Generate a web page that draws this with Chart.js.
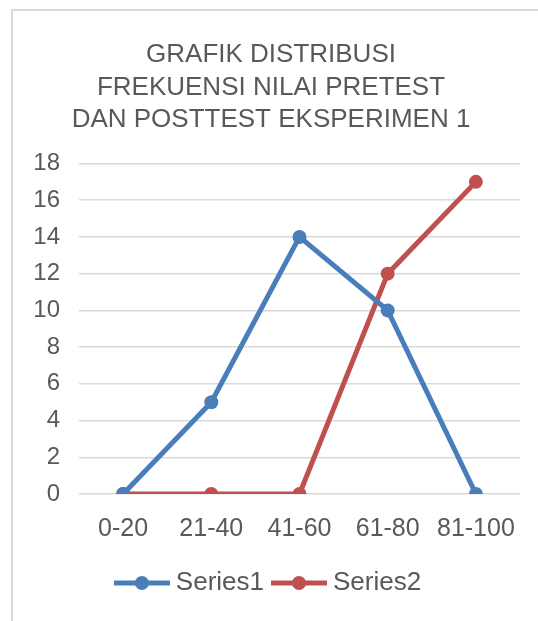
<!DOCTYPE html>
<html>
<head>
<meta charset="utf-8">
<script src="https://cdn.jsdelivr.net/npm/chart.js@4/dist/chart.umd.min.js"></script>
<style>
  html, body { margin: 0; padding: 0; background: #fff; }
  #wrap { position: relative; width: 538px; height: 621px; overflow: hidden; }
  #frame { position: absolute; left: 11px; top: 9px; width: 600px; height: 700px;
           border-top: 2px solid #d9d9d9; border-left: 2px solid #d9d9d9; box-sizing: border-box; }
  canvas { position: absolute; left: 0; top: 0; }
</style>
</head>
<body>
<div id="wrap">
  <div id="frame"></div>
  <canvas id="c" width="538" height="621"></canvas>
</div>
<script>
const categories = ["0-20", "21-40", "41-60", "61-80", "81-100"];
const series1 = [0, 5, 14, 10, 0];
const series2 = [0, 0, 0, 12, 17];
const seriesNames = ["Series1", "Series2"];
const titleLines = ["GRAFIK DISTRIBUSI", "FREKUENSI NILAI PRETEST", "DAN POSTTEST EKSPERIMEN 1"];

const BLUE = "#4a7ebb";
const RED = "#c0504d";
const TEXT = "#595959";
const FONT = "'Liberation Sans', Arial, sans-serif";

function legendIcon(color) {
  const cv = document.createElement("canvas");
  cv.width = 56; cv.height = 16;
  const g = cv.getContext("2d");
  g.strokeStyle = color; g.lineWidth = 5; g.lineCap = "butt";
  g.beginPath(); g.moveTo(0, 8); g.lineTo(56, 8); g.stroke();
  g.fillStyle = color;
  g.beginPath(); g.arc(28, 8, 7, 0, Math.PI * 2); g.fill();
  return cv;
}

new Chart(document.getElementById("c"), {
  type: "line",
  data: {
    labels: categories,
    datasets: [
      { label: seriesNames[0], data: series1, borderColor: BLUE, backgroundColor: BLUE,
        borderWidth: 5, pointRadius: 7, pointHoverRadius: 7, pointBorderWidth: 0, tension: 0 },
      { label: seriesNames[1], data: series2, borderColor: RED, backgroundColor: RED,
        borderWidth: 5, pointRadius: 7, pointHoverRadius: 7, pointBorderWidth: 0, tension: 0 }
    ]
  },
  options: {
    responsive: false,
    animation: false,
    devicePixelRatio: 1,
    layout: { padding: { left: 22, right: 18, top: 30, bottom: 15 } },
    plugins: {
      title: {
        display: true, text: titleLines, color: TEXT,
        font: { family: FONT, size: 26, weight: "normal", lineHeight: 1.25 },
        padding: { top: 9, bottom: 27 }
      },
      legend: {
        position: "bottom",
        labels: {
          color: TEXT, font: { family: FONT, size: 26 },
          usePointStyle: true, pointStyleWidth: 42, padding: 14,
          generateLabels(chart) {
            return chart.data.datasets.map((ds, i) => ({
              text: ds.label, fillStyle: ds.borderColor, strokeStyle: ds.borderColor,
              pointStyle: legendIcon(ds.borderColor), fontColor: TEXT,
              hidden: false, datasetIndex: i, lineWidth: 0
            }));
          }
        }
      },
      tooltip: { enabled: false }
    },
    scales: {
      x: {
        offset: true,
        grid: { display: false },
        border: { display: false },
        ticks: { color: TEXT, font: { family: FONT, size: 25 }, padding: 12, maxRotation: 0 }
      },
      y: {
        min: 0, max: 18,
        afterFit(scale) { scale.width = 57; },
        grid: { color: "#d9d9d9", lineWidth: 1.5, drawTicks: false },
        border: { display: false },
        ticks: { stepSize: 2, color: TEXT, font: { family: FONT, size: 24 }, padding: 19 }
      }
    }
  }
});
</script>
</body>
</html>
